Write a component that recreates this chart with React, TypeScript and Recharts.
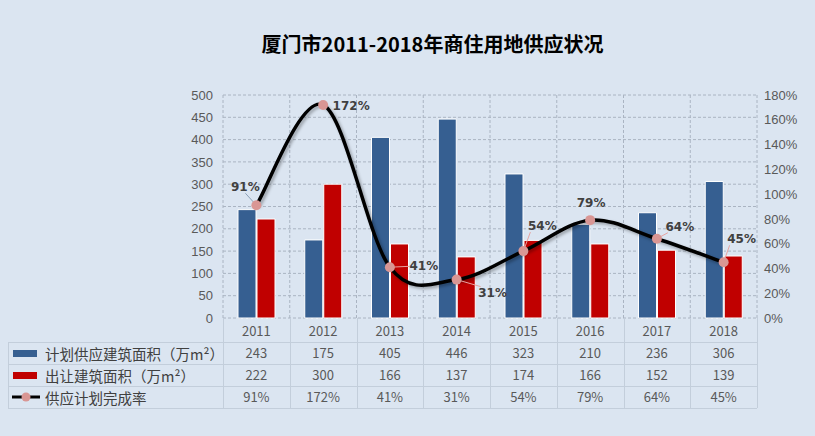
import { ComposedChart, Bar, Line, XAxis, YAxis, CartesianGrid } from 'recharts';

const YEARS = ['2011', '2012', '2013', '2014', '2015', '2016', '2017', '2018'];
const PLANNED = [243, 175, 405, 446, 323, 210, 236, 306];
const SOLD = [222, 300, 166, 137, 174, 166, 152, 139];
const RATE = [0.91, 1.72, 0.41, 0.31, 0.54, 0.79, 0.64, 0.45];

const LEFT_TICKS = [0, 50, 100, 150, 200, 250, 300, 350, 400, 450, 500];
const RIGHT_TICKS = [0, 0.2, 0.4, 0.6, 0.8, 1.0, 1.2, 1.4, 1.6, 1.8];

const SERIES_NAMES = ['计划供应建筑面积（万m²）', '出让建筑面积（万m²）', '供应计划完成率'];

// label offsets (text centre relative to the point) for the rate labels
const LABEL_OFFSETS: [number, number][] = [
  [-11, -18], [28, 1], [34, -1], [36, 13], [19, -25], [1, -17], [23, -12], [18, -23],
];

const BLUE = '#365f91';
const RED = '#c00000';
const PINK = '#d99694';
const BG = '#dbe5f1';
const GRID = '#aab4c2';
const TABLE_LINE = '#c3cedb';

const W = 815;
const PLOT_LEFT = 223;
const PLOT_RIGHT = 757;
const PLOT_TOP = 95;
const PLOT_BOTTOM = 318;
const COL_W = (PLOT_RIGHT - PLOT_LEFT) / YEARS.length;

const data = YEARS.map((year, i) => ({ year, planned: PLANNED[i], sold: SOLD[i], rate: RATE[i] }));

// Excel style smoothing (Catmull-Rom through every point)
const excelCurve = (context: any) => {
  let pts: [number, number][] = [];
  return {
    areaStart() {},
    areaEnd() {},
    lineStart() { pts = []; },
    point(x: number, y: number) { pts.push([+x, +y]); },
    lineEnd() {
      if (!pts.length) return;
      context.moveTo(pts[0][0], pts[0][1]);
      for (let i = 0; i < pts.length - 1; i++) {
        const p0 = pts[i - 1] || pts[i];
        const p1 = pts[i];
        const p2 = pts[i + 1];
        const p3 = pts[i + 2] || pts[i + 1];
        context.bezierCurveTo(
          p1[0] + (p2[0] - p0[0]) / 6, p1[1] + (p2[1] - p0[1]) / 6,
          p2[0] - (p3[0] - p1[0]) / 6, p2[1] - (p3[1] - p1[1]) / 6,
          p2[0], p2[1],
        );
      }
    },
  };
};

const pct = (v: number) => `${Math.round(v * 100)}%`;

const RateDot = (props: any) => {
  const { cx, cy, index, payload } = props;
  const [dx, dy] = LABEL_OFFSETS[index] || [0, -15];
  const tx = cx + dx;
  const ty = cy + dy;
  const showLeader = Math.abs(dx) > 15 || Math.abs(dy) > 15;
  const lx = tx - Math.sign(dx) * 12;
  const ly = ty - Math.sign(dy) * 6;
  return (
    <g key={`dot-${index}`}>
      {showLeader && index !== 1 && index !== 5 && (
        <line x1={cx} y1={cy} x2={Math.abs(dx) > 15 ? lx : tx} y2={Math.abs(dy) > 8 ? ly : cy + dy} stroke={index === 0 ? '#8a9fb5' : '#e7a3a0'} strokeWidth={1} />
      )}
      <circle cx={cx} cy={cy} r={5} fill={PINK} />
      <text x={tx} y={ty} textAnchor="middle" dominantBaseline="central" fontSize={12} fontWeight="bold" fill="#404040" fontFamily="'DejaVu Sans', sans-serif">
        {pct(payload.rate)}
      </text>
    </g>
  );
};

const cellStyle = { position: 'absolute' as const, textAlign: 'center' as const, fontSize: 13, color: '#595959', lineHeight: '22px' };

function DataTable() {
  const rows = [PLANNED.map(String), SOLD.map(String), RATE.map(pct)];
  const rowTops = [342, 364, 386];
  return (
    <div style={{ position: 'absolute', left: 0, top: 0, width: W, height: 436, fontFamily: "'Noto Sans CJK SC', sans-serif", pointerEvents: 'none' }}>
      {/* horizontal rules */}
      {[342, 364, 386, 408].map((y) => (
        <div key={y} style={{ position: 'absolute', left: 8, top: y, width: PLOT_RIGHT - 8, height: 1, background: TABLE_LINE }} />
      ))}
      {/* vertical rules */}
      <div style={{ position: 'absolute', left: 8, top: 342, width: 1, height: 66, background: TABLE_LINE }} />
      {YEARS.map((_, i) => (
        <div key={i} style={{ position: 'absolute', left: PLOT_LEFT + i * COL_W, top: PLOT_BOTTOM, width: 1, height: 408 - PLOT_BOTTOM, background: TABLE_LINE }} />
      ))}
      <div style={{ position: 'absolute', left: PLOT_RIGHT, top: PLOT_BOTTOM, width: 1, height: 408 - PLOT_BOTTOM, background: TABLE_LINE }} />
      {/* header years */}
      {YEARS.map((y, i) => (
        <div key={y} style={{ ...cellStyle, left: PLOT_LEFT + i * COL_W, top: 320, width: COL_W }}>{y}</div>
      ))}
      {/* legend cells */}
      {SERIES_NAMES.map((name, r) => (
        <div key={name} style={{ position: 'absolute', left: 12, top: rowTops[r], height: 22, display: 'flex', alignItems: 'center', fontSize: 14.5, color: '#404040' }}>
          {r < 2 ? (
            <div style={{ width: 24, height: 7, background: r === 0 ? BLUE : RED, marginLeft: 1, marginRight: 8 }} />
          ) : (
            <svg width={30} height={10} style={{ marginRight: 3 }}>
              <line x1={0} y1={5} x2={28} y2={5} stroke="#000" strokeWidth={3} />
              <circle cx={14} cy={5} r={4.5} fill={PINK} />
            </svg>
          )}
          <span>{name}</span>
        </div>
      ))}
      {/* values */}
      {rows.map((vals, r) =>
        vals.map((v, i) => (
          <div key={`${r}-${i}`} style={{ ...cellStyle, left: PLOT_LEFT + i * COL_W, top: rowTops[r], width: COL_W }}>{v}</div>
        )),
      )}
    </div>
  );
}

export default function App() {
  return (
    <div style={{ position: 'fixed', left: 0, top: 0, width: W, height: 436, background: BG, overflow: 'hidden' }}>
      <div style={{ position: 'absolute', left: 0, top: 29, width: 865, textAlign: 'center', fontSize: 20, fontWeight: 'bold', color: '#000', fontFamily: "'Noto Sans CJK SC', sans-serif" }}>
        厦门市2011-2018年商住用地供应状况
      </div>
      <div style={{ position: 'absolute', left: 0, top: 0 }}>
        <ComposedChart width={W} height={PLOT_BOTTOM + 7} data={data} margin={{ top: PLOT_TOP, right: 0, bottom: 7, left: 0 }} barGap={1}>
          <CartesianGrid
            yAxisId="left"
            stroke={GRID}
            strokeDasharray="3 2"
            verticalCoordinatesGenerator={({ offset }: any) => YEARS.map((_, i) => offset.left + (i * offset.width) / YEARS.length).concat(offset.left + offset.width)}
          />
          <XAxis dataKey="year" hide />
          <YAxis
            yAxisId="left"
            orientation="left"
            width={PLOT_LEFT}
            domain={[0, 500]}
            ticks={LEFT_TICKS}
            interval={0}
            tickSize={0}
            tickMargin={10}
            axisLine={false}
            tickLine={false}
            tick={{ fontSize: 13, fill: '#595959', fontFamily: "'Liberation Sans', sans-serif" }}
          />
          <YAxis
            yAxisId="right"
            orientation="right"
            width={W - PLOT_RIGHT}
            domain={[0, 1.8]}
            ticks={RIGHT_TICKS}
            interval={0}
            tickFormatter={pct}
            tickSize={0}
            tickMargin={7}
            axisLine={false}
            tickLine={false}
            tick={{ fontSize: 13, fill: '#595959', fontFamily: "'Liberation Sans', sans-serif" }}
          />
          <Bar yAxisId="left" dataKey="planned" fill={BLUE} stroke="#ffffff" strokeWidth={1} barSize={18} isAnimationActive={false} />
          <Bar yAxisId="left" dataKey="sold" fill={RED} stroke="#ffffff" strokeWidth={1} barSize={18} isAnimationActive={false} />
          <Line
            yAxisId="right"
            dataKey="rate"
            type={excelCurve as any}
            stroke="#000000"
            strokeWidth={3.5}
            dot={RateDot}
            activeDot={false}
            style={{ filter: 'drop-shadow(2px 2px 1.5px rgba(0,0,0,0.3))' }}
            isAnimationActive={false}
          />
        </ComposedChart>
      </div>
      <DataTable />
    </div>
  );
}
